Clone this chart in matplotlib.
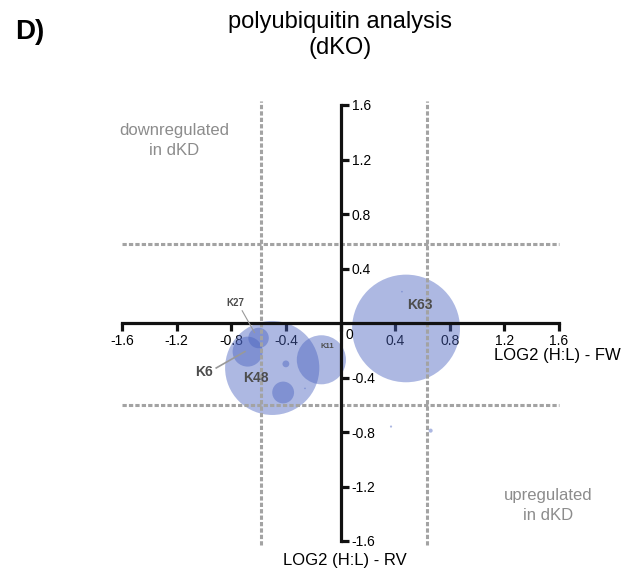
import matplotlib
matplotlib.use("Agg")
import matplotlib.pyplot as plt
from matplotlib.patches import Circle

plt.rcParams['font.family'] = ['Liberation Sans', 'DejaVu Sans']

# bubbles: log2 H:L forward, reverse, radius
names = ['K63', 'K48', 'K11', 'K6', 'K27', '', '', '', '', '', '']
fw = [0.48, -0.50, -0.14, -0.68, -0.60, -0.42, -0.40, 0.66, 0.37, 0.45, -0.26]
rv = [-0.04, -0.33, -0.27, -0.21, -0.11, -0.51, -0.30, -0.79, -0.76, 0.23, -0.48]
size = [0.395, 0.345, 0.18, 0.11, 0.075, 0.08, 0.025, 0.015, 0.008, 0.006, 0.006]

ticks = [-1.6, -1.2, -0.8, -0.4, 0, 0.4, 0.8, 1.2, 1.6]
x_cut = [-0.58, 0.63]
y_cut = [0.58, -0.60]

fig = plt.figure(figsize=(6.29, 5.73), dpi=100)
ax = fig.add_axes([122 / 629, 32 / 573, 437 / 629, 436 / 573])
ax.set_xlim(-1.6, 1.6)
ax.set_ylim(-1.6, 1.6)

for x, y, r in zip(fw, rv, size):
    ax.add_patch(Circle((x, y), r, facecolor='#4a63c0', alpha=0.45, edgecolor='none', zorder=2))

# threshold lines
dash = dict(color='#a3a3a3', lw=2.2, ls=(0, (1.4, 0.7)), zorder=3, clip_on=False)
for c in y_cut:
    ax.plot([-1.6, 1.6], [c, c], **dash)
for c in x_cut:
    ax.plot([c, c], [-1.63, 1.63], **dash)

# axes through origin
for s in ['left', 'top']:
    ax.spines[s].set_visible(False)
ax.spines['bottom'].set_position(('data', 0))
ax.spines['right'].set_position(('data', 0))
for s in ['bottom', 'right']:
    ax.spines[s].set_linewidth(2.3)
    ax.spines[s].set_color('#111111')
    ax.spines[s].set_zorder(4)
ax.yaxis.tick_right()
ax.set_xticks(ticks)
ax.set_xticklabels(['' if t == 0 else f'{t:g}' for t in ticks])
ax.set_yticks([t for t in ticks if t != 0])
ax.set_yticklabels([f'{t:g}' for t in ticks if t != 0])
ax.tick_params(axis='both', direction='out', length=6, width=2.3, color='#111111', labelsize=10, pad=2)
ax.text(0.04, -0.04, '0', fontsize=10, ha='left', va='top')

ax.text(2.05, -0.18, 'LOG2 (H:L) - FW', fontsize=12, ha='right', va='top', clip_on=False)
fig.text(345 / 629, 13 / 573, 'LOG2 (H:L) - RV', fontsize=12, ha='center', va='center')

# labels
lab = dict(color='#4d4d4d', fontweight='bold', ha='center', va='center', zorder=5)
ax.text(0.58, 0.13, 'K63', fontsize=10, **lab)
ax.text(-0.62, -0.40, 'K48', fontsize=10, **lab)
ax.text(-0.10, -0.17, 'K11', fontsize=5.5, **lab)
ax.text(-1.00, -0.36, 'K6', fontsize=10, **lab)
ax.text(-0.77, 0.15, 'K27', fontsize=7, **lab)
ax.plot([-0.91, -0.70], [-0.33, -0.21], color='#999999', lw=1.2, zorder=5)
ax.plot([-0.72, -0.63], [0.09, -0.07], color='#999999', lw=0.8, zorder=5)

ax.text(-1.22, 1.34, 'downregulated\nin dKD', color='#8c8c8c', fontsize=12, ha='center', va='center', linespacing=1.45)
ax.text(1.52, -1.34, 'upregulated\nin dKD', color='#8c8c8c', fontsize=12, ha='center', va='center', linespacing=1.45)

fig.text(340 / 629, 1 - 35 / 573, 'polyubiquitin analysis\n(dKO)', fontsize=17, ha='center', va='center', linespacing=1.25)
fig.text(15 / 629, 1 - 32 / 573, 'D)', fontsize=20, fontweight='bold', ha='left', va='center')

fig.savefig('out.png', dpi=100)
